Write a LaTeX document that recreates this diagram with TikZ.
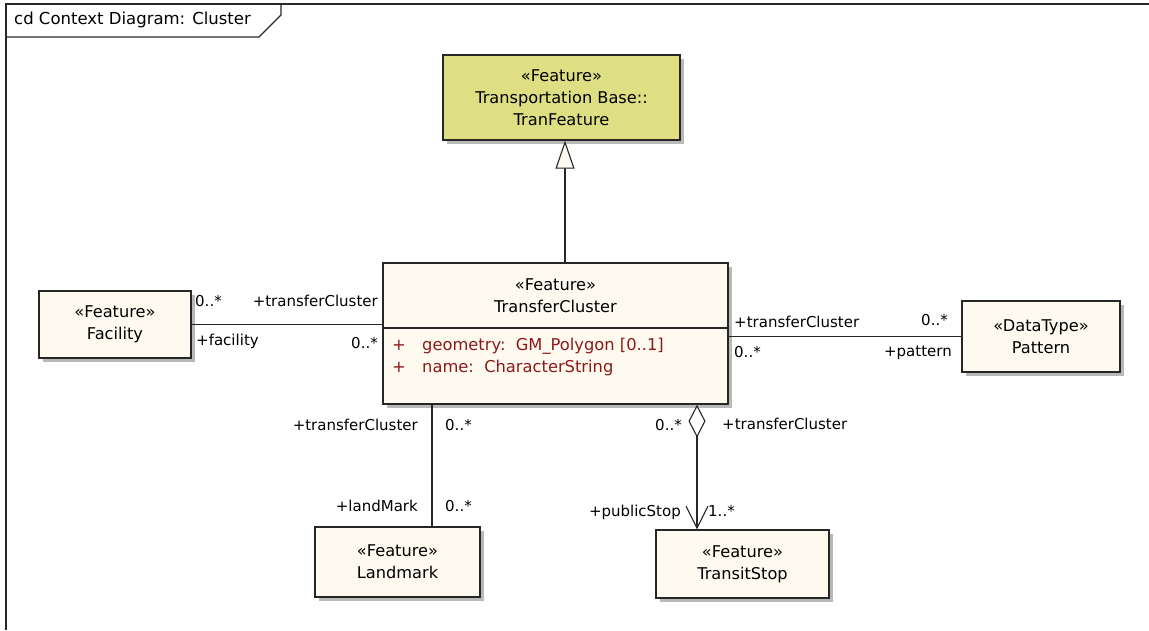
\documentclass[tikz,border=0pt]{standalone}
\usepackage{fontspec}
\setmainfont{DejaVu Sans}
\usetikzlibrary{arrows.meta,shadows}
\definecolor{classfill}{RGB}{254,250,240}
\definecolor{basefill}{RGB}{222,222,130}
\definecolor{attrcol}{RGB}{140,25,25}
\definecolor{framecol}{RGB}{40,40,40}
\begin{document}
\begin{tikzpicture}[x=1pt,y=-1pt,
  font=\fontsize{16.2}{22}\selectfont,
  classbox/.style={draw=black!85, line width=1.3pt, fill=classfill, align=center,
    inner sep=0pt, drop shadow={shadow xshift=4pt, shadow yshift=-4pt, fill=black!55, opacity=0.5}},
  role/.style={inner sep=0pt, text height=11pt, text depth=3pt, font=\fontsize{15}{17}\selectfont},
  attr/.style={inner sep=0pt, text height=11pt, text depth=3pt, text=attrcol, font=\fontsize{16.3}{18}\selectfont},
  assoc/.style={draw=black!85, line width=1.1pt},
]
\useasboundingbox (0,0) rectangle (1149,630);

% diagram frame with its name tab
\draw[framecol, line width=1.4pt] (6,630) -- (6,4) -- (1149,4);
\draw[framecol, line width=1.2pt] (6,37) -- (259,37) -- (281,15) -- (281,4);
\node[inner sep=0pt, anchor=west, text height=11pt, text depth=3pt, font=\fontsize{16.5}{18}\selectfont] (title) at (14,20) {cd Context Diagram: Cluster};

% classes
\node[classbox, fill=basefill, minimum width=237pt, minimum height=85pt] (tran) at (561.5,97.5)
  {«Feature»\\Transportation Base::\\TranFeature};
\node[classbox, minimum width=345pt, minimum height=141pt] (tc) at (555.5,333.5) {};
\node[classbox, minimum width=152pt, minimum height=67pt] (fac) at (115,324.5) {«Feature»\\Facility};
\node[classbox, minimum width=158pt, minimum height=71pt] (pat) at (1041,336.5) {«DataType»\\Pattern};
\node[classbox, minimum width=165pt, minimum height=70pt] (lm) at (397.5,562) {«Feature»\\Landmark};
\node[classbox, minimum width=173pt, minimum height=68pt] (ts) at (742.5,564) {«Feature»\\TransitStop};

% TransferCluster compartments
\coordinate (divy) at (0,328);
\draw[draw=black!85, line width=1.1pt] (tc.west |- divy) -- (tc.east |- divy);
\node[inner sep=0pt, align=center] (tchead) at (555.5,295.5) {«Feature»\\TransferCluster};
\node[attr, anchor=west] (a1p) at (392,346) {+};
\node[attr, anchor=west] (a1) at (422,346) {geometry:\ \ GM\_Polygon [0..1]};
\node[attr, anchor=west] (a2p) at (392,368) {+};
\node[attr, anchor=west] (a2) at (422,368) {name:\ \ CharacterString};

% connectors
\coordinate (gx) at (565,0);
\coordinate (lx) at (432,0);
\coordinate (sx) at (697,0);
\draw[assoc, -{Triangle[open, fill=classfill, length=28pt, width=19pt]}] (tc.north -| gx) -- (tran.south -| gx);
\draw[assoc] (fac.east) -- (tc.west |- fac.east);
\draw[assoc] (tc.east |- pat.west) -- (pat.west);
\draw[assoc] (tc.south -| lx) -- (lm.north -| lx);
\draw[assoc, {Diamond[open, fill=white, length=33pt, width=17pt]}-{Straight Barb[length=22pt, width=22pt]}]
  (tc.south -| sx) -- (ts.north -| sx);

% association end labels
\node[role, anchor=west] (f1) at (195,302) {0..*};
\node[role, anchor=east] (f2) at (378,302) {+transferCluster};
\node[role, anchor=west] (f3) at (196,341) {+facility};
\node[role, anchor=east] (f4) at (378,344) {0..*};

\node[role, anchor=west] (p1) at (734,323) {+transferCluster};
\node[role, anchor=east] (p2) at (948,321) {0..*};
\node[role, anchor=west] (p3) at (734,353) {0..*};
\node[role, anchor=east] (p4) at (952,352) {+pattern};

\node[role, anchor=east] (l1) at (418,426) {+transferCluster};
\node[role, anchor=west] (l2) at (445,426) {0..*};
\node[role, anchor=east] (l3) at (418,507) {+landMark};
\node[role, anchor=west] (l4) at (445,507) {0..*};

\node[role, anchor=east] (s1) at (682,426) {0..*};
\node[role, anchor=west] (s2) at (722,425) {+transferCluster};
\node[role, anchor=east] (s3) at (681,512) {+publicStop};
\node[role, anchor=west] (s4) at (708,512) {1..*};
\end{tikzpicture}
\end{document}
